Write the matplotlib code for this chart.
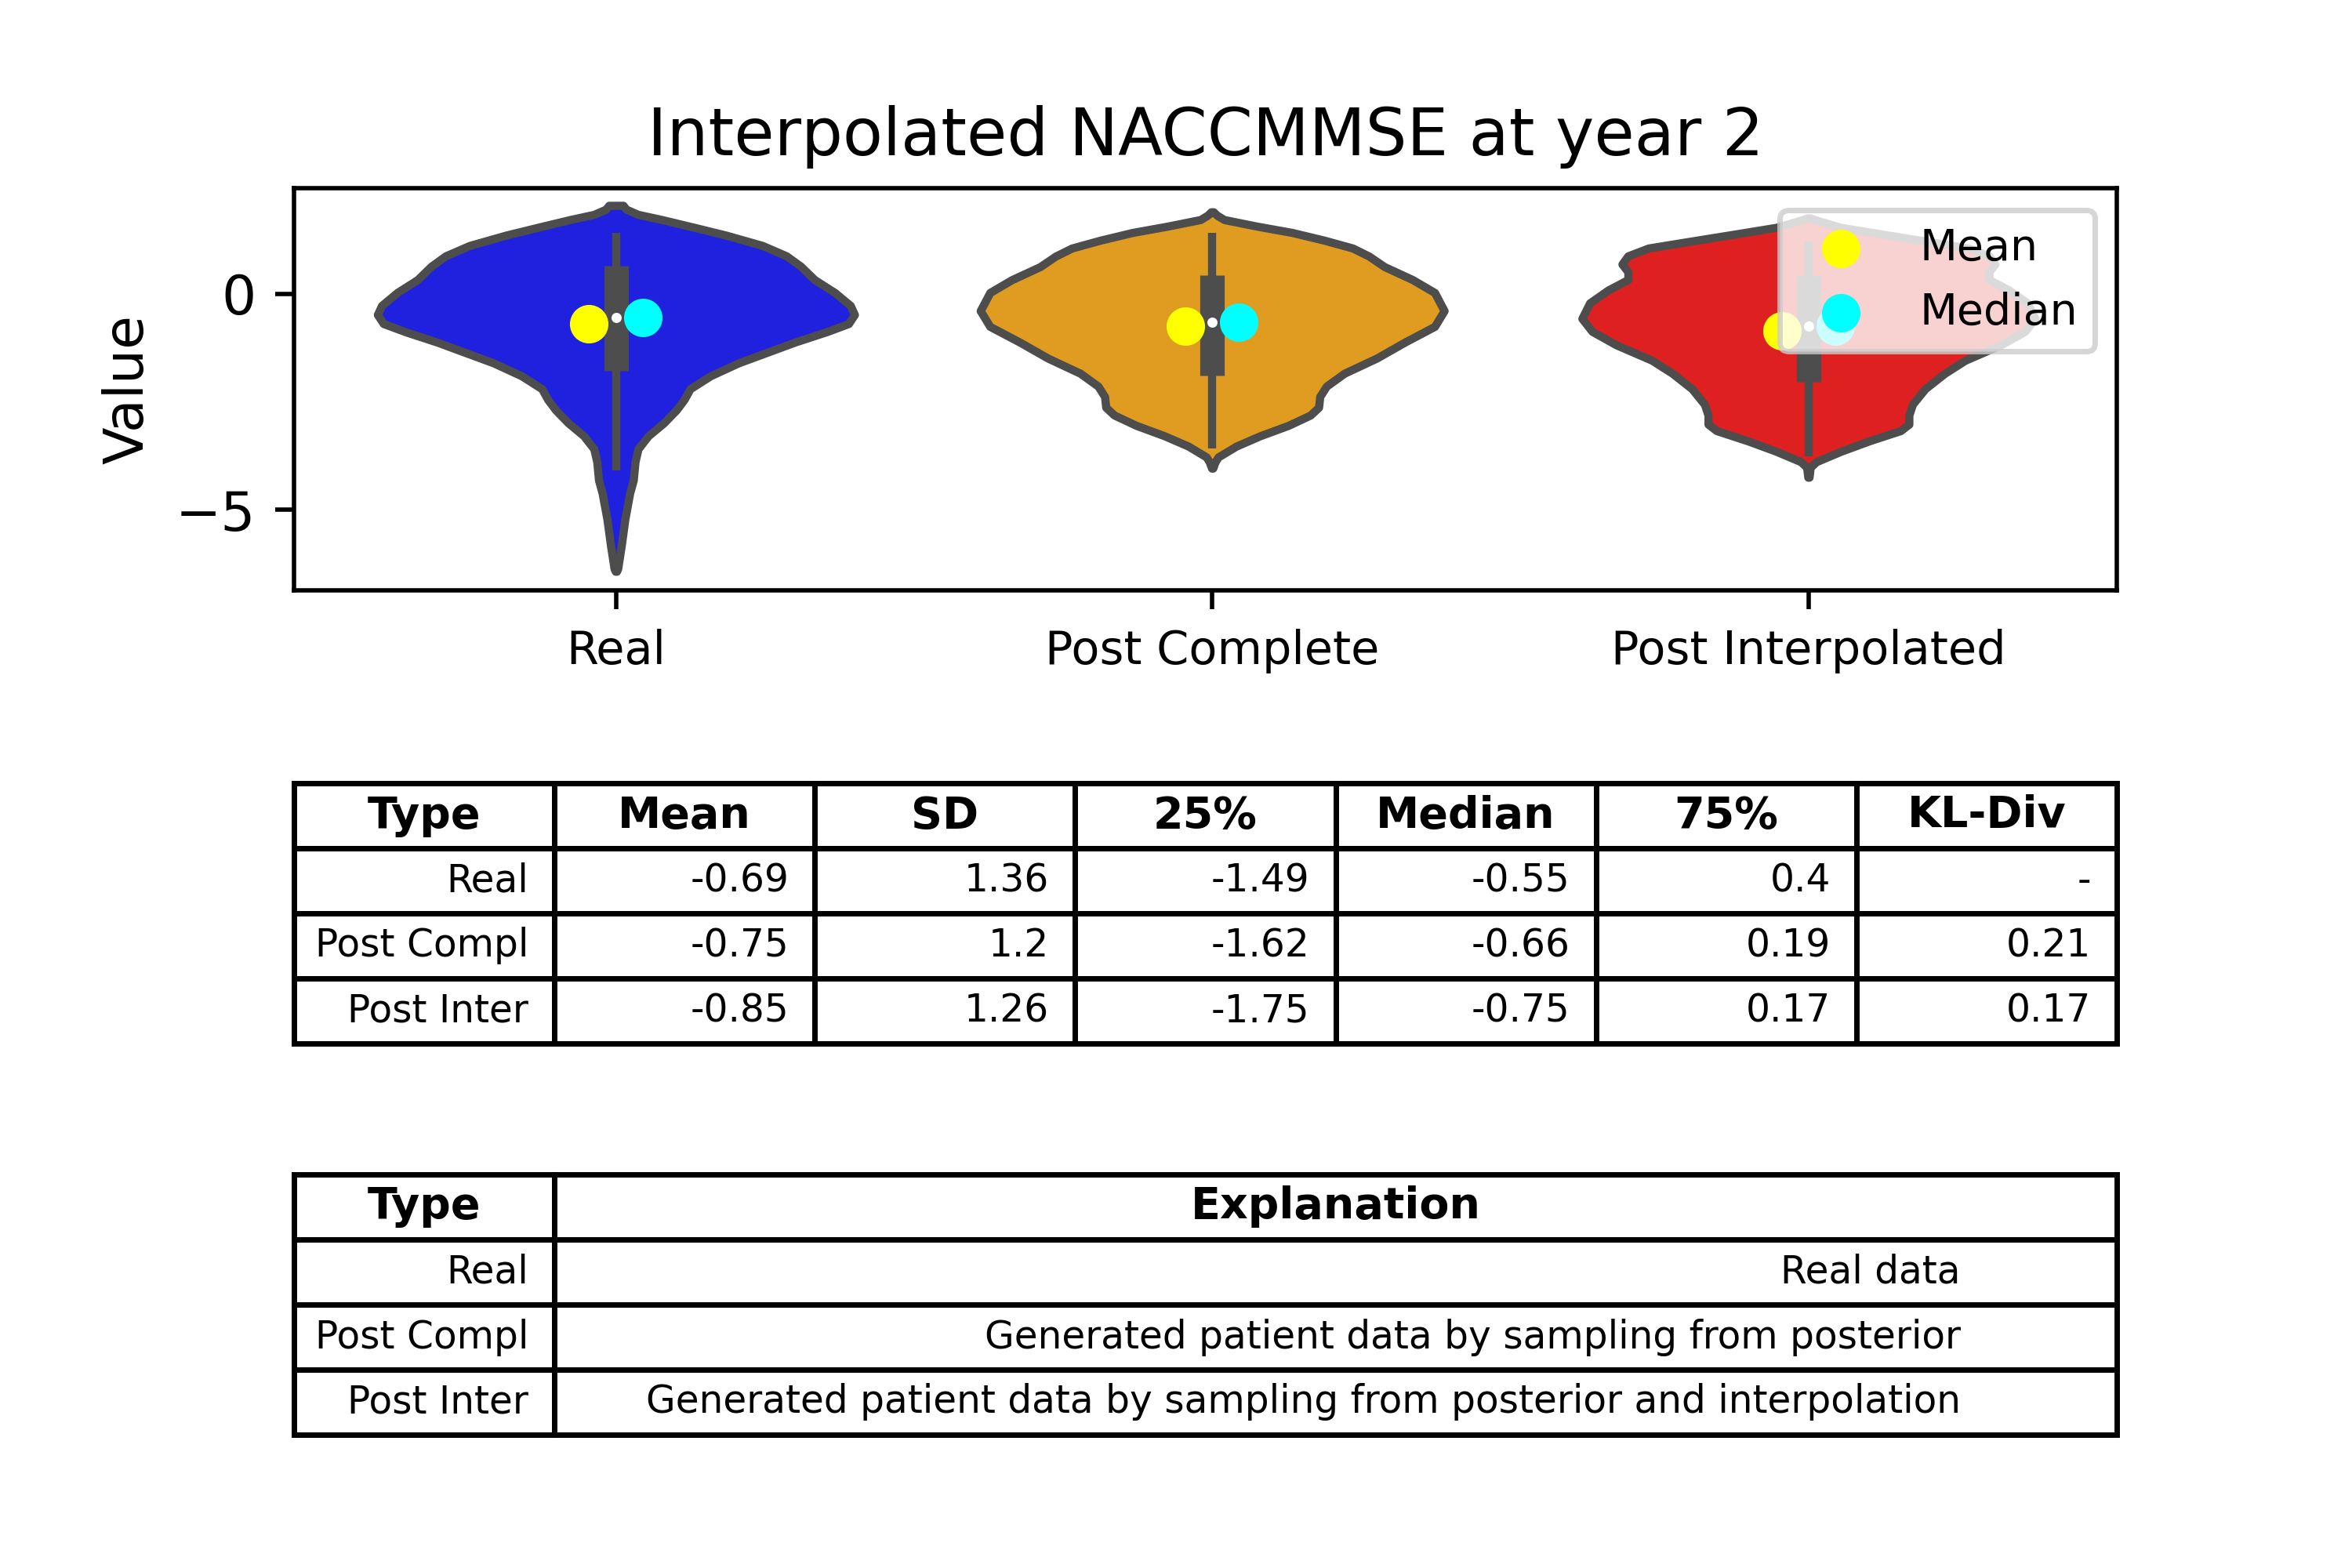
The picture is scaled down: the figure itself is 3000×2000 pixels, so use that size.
import matplotlib
matplotlib.use("Agg")
import matplotlib.pyplot as plt
import numpy as np

# ---------------- data ----------------
categories = ["Real", "Post Complete", "Post Interpolated"]
violin_colors = ["#2020df", "#df9c20", "#df2020"]

# violin outlines: value grid and relative density (half-width)
real_y = [2.05, 1.96, 1.84, 1.72, 1.54, 1.36, 1.12, 0.88, 0.64, 0.33, 0.03, -0.27,
          -0.48, -0.69, -0.88, -1.12, -1.36, -1.60, -1.90, -2.20, -2.45, -2.69,
          -2.99, -3.29, -3.59, -3.89, -4.32, -4.62, -5.22, -5.83, -6.37, -6.43]
real_d = [0.012, 0.017, 0.037, 0.077, 0.131, 0.184, 0.245, 0.285, 0.309, 0.332, 0.366, 0.392,
          0.399, 0.389, 0.352, 0.299, 0.252, 0.205, 0.158, 0.124, 0.114, 0.101,
          0.080, 0.054, 0.037, 0.032, 0.029, 0.023, 0.015, 0.009, 0.003, 0.001]

compl_y = [1.90, 1.82, 1.72, 1.57, 1.42, 1.24, 1.06, 0.875, 0.63, 0.33, 0.03, -0.39,
           -0.755, -1.12, -1.49, -1.84, -2.14, -2.38, -2.63, -2.81, -3.05, -3.29,
           -3.53, -3.78, -3.89, -4.04]
compl_d = [0.002, 0.008, 0.020, 0.074, 0.134, 0.188, 0.235, 0.262, 0.288, 0.335, 0.372, 0.388,
           0.372, 0.322, 0.275, 0.221, 0.191, 0.180, 0.178, 0.164, 0.127, 0.080,
           0.040, 0.010, 0.005, 0.001]

inter_y = [1.76, 1.72, 1.54, 1.36, 1.18, 1.06, 0.88, 0.69, 0.51, 0.33, 0.09, -0.21,
           -0.57, -0.87, -1.18, -1.54, -1.84, -2.20, -2.56, -2.81, -3.02, -3.17,
           -3.41, -3.65, -3.89, -4.02, -4.25]
inter_d = [0.002, 0.010, 0.054, 0.134, 0.215, 0.268, 0.302, 0.312, 0.302, 0.302, 0.335, 0.366,
           0.379, 0.362, 0.322, 0.262, 0.228, 0.195, 0.174, 0.168, 0.168, 0.154,
           0.101, 0.054, 0.013, 0.003, 0.001]

# inner box
box_q1 = [-1.79, -1.90, -2.04]
box_q3 = [0.65, 0.43, 0.42]
whisker_lo = [-4.09, -3.59, -3.76]
whisker_hi = [1.42, 1.42, 1.21]

# table statistics
type_labels = ["Real", "Post Compl", "Post Inter"]
mean_vals = [-0.69, -0.75, -0.85]
sd_vals = [1.36, 1.2, 1.26]
q25_vals = [-1.49, -1.62, -1.75]
median_vals = [-0.55, -0.66, -0.75]
q75_vals = [0.4, 0.19, 0.17]
kl_vals = ["-", 0.21, 0.17]
stat_headers = ["Type", "Mean", "SD", "25%", "Median", "75%", "KL-Div"]

expl_headers = ["Type", "Explanation"]
explanations = ["Real data",
                "Generated patient data by sampling from posterior",
                "Generated patient data by sampling from posterior and interpolation"]

# ---------------- figure ----------------
plt.rcParams["font.family"] = ["DejaVu Sans"]
fig = plt.figure(figsize=(6, 4), dpi=500)

ax = fig.add_axes([0.125, 0.6235, 0.775, 0.2565])
positions = np.arange(len(categories))
line_gray = "#4d4d4d"

densities = [real_d, compl_d, inter_d]
grids = [real_y, compl_y, inter_y]
dmax_all = max(max(d) for d in densities)
vpstats = []
widths = []
for ys, ds, med, mn in zip(grids, densities, median_vals, mean_vals):
    ys = np.array(ys)
    ds = np.array(ds)
    vpstats.append(dict(coords=ys, vals=ds, mean=mn, median=med,
                        min=ys.min(), max=ys.max()))
    widths.append(0.8 * ds.max() / dmax_all)

parts = ax.violin(vpstats, positions=positions, widths=widths,
                  showmeans=False, showextrema=False, showmedians=False)
for body, col in zip(parts["bodies"], violin_colors):
    body.set_facecolor(col)
    body.set_edgecolor(line_gray)
    body.set_linewidth(1.5)
    body.set_alpha(1)
    body.set_zorder(1)
    body.set_joinstyle("round")

ax.vlines(positions, whisker_lo, whisker_hi, colors=line_gray, linewidth=1.5,
          capstyle="butt", zorder=2)
ax.vlines(positions, box_q1, box_q3, colors=line_gray, linewidth=4.5,
          capstyle="butt", zorder=2)
ax.scatter(positions, median_vals, s=3.5, color="white", linewidths=0, zorder=3)

off = 0.045
ax.scatter(positions - off, mean_vals, s=50, color="yellow", linewidths=0,
           zorder=4, label="Mean")
ax.scatter(positions + off, median_vals, s=50, color="cyan", linewidths=0,
           zorder=4, label="Median")

ax.set_xlim(-0.54, 2.517)
ax.set_ylim(-6.87, 2.45)
ax.set_xticks(positions)
ax.set_xticklabels(categories, fontsize=8.5)
ax.tick_params(axis="y", labelsize=10)
ax.set_ylabel("Value", fontsize=10)
ax.set_title("Interpolated NACCMMSE at year 2", fontsize=12)
ax.legend(loc="upper right", fontsize=8)

# ---------------- statistics table ----------------
tax1 = fig.add_axes([0.125, 0.3345, 0.775, 0.166])
tax1.axis("off")
rows1 = []
for i in range(len(type_labels)):
    rows1.append([type_labels[i], str(mean_vals[i]), str(sd_vals[i]), str(q25_vals[i]),
                  str(median_vals[i]), str(q75_vals[i]), str(kl_vals[i])])
t1 = tax1.table(cellText=rows1, colLabels=stat_headers, bbox=[0, 0, 1, 1],
                colWidths=[1 / 7] * 7)
t1.auto_set_font_size(False)
t1.set_fontsize(7)
for (r, c), cell in t1.get_celld().items():
    if r == 0:
        cell.get_text().set_fontweight("bold")
        cell.get_text().set_fontsize(8)

# ---------------- explanation table ----------------
tax2 = fig.add_axes([0.125, 0.085, 0.775, 0.166])
tax2.axis("off")
rows2 = [[t, e] for t, e in zip(type_labels, explanations)]
t2 = tax2.table(cellText=rows2, colLabels=expl_headers, bbox=[0, 0, 1, 1],
                colWidths=[1 / 7, 6 / 7])
t2.auto_set_font_size(False)
t2.set_fontsize(7)
for (r, c), cell in t2.get_celld().items():
    if r == 0:
        cell.get_text().set_fontweight("bold")
        cell.get_text().set_fontsize(8)

fig.savefig("out.png", dpi=500)
